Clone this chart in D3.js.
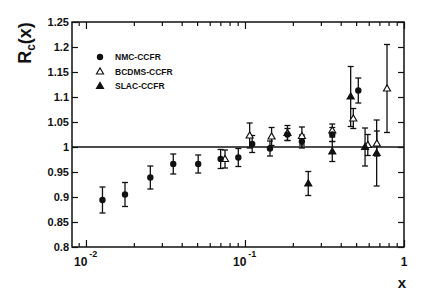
<!DOCTYPE html>
<html>
<head>
<meta charset="utf-8">
<script src="https://cdn.jsdelivr.net/npm/d3@7"></script>
<style>
  body { margin: 0; background: #fff; }
  svg { display: block; font-family: "Liberation Sans", Arial, sans-serif; font-weight: bold; }
</style>
</head>
<body>
<svg id="chart" width="429" height="292"></svg>
<script>
// NMC-CCFR (filled circles)
const nmcX = [0.0127, 0.0176, 0.0254, 0.0354, 0.0508, 0.0703, 0.0908, 0.111, 0.1436, 0.185, 0.228, 0.354, 0.516];
const nmcY = [0.894, 0.905, 0.939, 0.966, 0.966, 0.976, 0.979, 1.006, 0.997, 1.025, 1.011, 1.025, 1.113];
const nmcErr = [0.026, 0.024, 0.023, 0.02, 0.018, 0.019, 0.018, 0.017, 0.015, 0.012, 0.013, 0.014, 0.025];

// BCDMS-CCFR (open triangles)
const bcdmsX = [0.0749, 0.107, 0.147, 0.185, 0.228, 0.354, 0.48, 0.592, 0.675, 0.782];
const bcdmsY = [0.976, 1.023, 1.021, 1.028, 1.022, 1.033, 1.057, 1.004, 1.007, 1.117];
const bcdmsErr = [0.018, 0.025, 0.018, 0.015, 0.018, 0.013, 0.02, 0.021, 0.025, 0.088];

// SLAC-CCFR (filled triangles)
const slacX = [0.25, 0.354, 0.462, 0.569, 0.673];
const slacY = [0.927, 0.991, 1.101, 1.0, 0.988];
const slacErr = [0.024, 0.02, 0.06, 0.038, 0.066];

const yTicks = [0.8, 0.85, 0.9, 0.95, 1, 1.05, 1.1, 1.15, 1.2, 1.25];
const yTickLabels = ["0.8", "0.85", "0.9", "0.95", "1", "1.05", "1.1", "1.15", "1.2", "1.25"];
const xMajor = [0.01, 0.1, 1];
const xMajorBase = ["10", "10", "1"];
const xMajorExp = ["-2", "-1", ""];
const xMinor = [0.009, 0.02, 0.03, 0.04, 0.05, 0.06, 0.07, 0.08, 0.09,
                0.2, 0.3, 0.4, 0.5, 0.6, 0.7, 0.8, 0.9];

const legendNames = ["NMC-CCFR", "BCDMS-CCFR", "SLAC-CCFR"];

const svg = d3.select("#chart");
const plotL = 72, plotR = 404, plotT = 22, plotB = 247;

const x = d3.scaleLog().domain([0.00817, 1]).range([plotL, plotR]);
const y = d3.scaleLinear().domain([0.8, 1.25]).range([plotB, plotT]);

const series = [
  { name: legendNames[0], shape: "circle", xs: nmcX, ys: nmcY, es: nmcErr },
  { name: legendNames[1], shape: "open", xs: bcdmsX, ys: bcdmsY, es: bcdmsErr },
  { name: legendNames[2], shape: "tri", xs: slacX, ys: slacY, es: slacErr }
];

// axes (all ticks inward)
const gx = svg.append("g").attr("transform", `translate(0,${plotB})`);
gx.call(d3.axisBottom(x).tickValues(xMajor).tickSize(-7).tickSizeOuter(0).tickFormat(""));
const gxm = svg.append("g").attr("transform", `translate(0,${plotB})`);
gxm.call(d3.axisBottom(x).tickValues(xMinor).tickSize(-4).tickSizeOuter(0).tickFormat(""));
const gt = svg.append("g").attr("transform", `translate(0,${plotT})`);
gt.call(d3.axisTop(x).tickValues(xMajor).tickSize(-7).tickSizeOuter(0).tickFormat(""));
const gtm = svg.append("g").attr("transform", `translate(0,${plotT})`);
gtm.call(d3.axisTop(x).tickValues(xMinor).tickSize(-4).tickSizeOuter(0).tickFormat(""));

const gy = svg.append("g").attr("transform", `translate(${plotL},0)`);
gy.call(d3.axisLeft(y).tickValues(yTicks).tickSize(-6).tickSizeOuter(0).tickPadding(3)
  .tickFormat((d, i) => yTickLabels[i]));
const gr = svg.append("g").attr("transform", `translate(${plotR},0)`);
gr.call(d3.axisRight(y).tickValues(yTicks).tickSize(-6).tickSizeOuter(0).tickFormat(""));

svg.selectAll(".domain").remove();
svg.selectAll(".tick line").attr("stroke", "#111").attr("stroke-width", 1.2);
gy.selectAll("text").attr("font-size", 11).attr("font-weight", "bold").attr("fill", "#111")
  .attr("font-family", "Liberation Sans, Arial, sans-serif");

// frame
svg.append("rect")
  .attr("x", plotL).attr("y", plotT)
  .attr("width", plotR - plotL).attr("height", plotB - plotT)
  .attr("fill", "none").attr("stroke", "#111").attr("stroke-width", 1.5);

// reference line at 1
svg.append("line")
  .attr("x1", plotL).attr("x2", plotR)
  .attr("y1", y(1)).attr("y2", y(1))
  .attr("stroke", "#111").attr("stroke-width", 1.5);

// x tick labels with superscripts
const xl = svg.append("g");
xMajor.forEach((v, i) => {
  const t = xl.append("text")
    .attr("x", x(v) + (xMajorExp[i] ? -12 : 0))
    .attr("y", 266)
    .attr("font-size", 12)
    .attr("fill", "#111")
    .attr("text-anchor", xMajorExp[i] ? "start" : "middle");
  t.append("tspan").text(xMajorBase[i]);
  if (xMajorExp[i]) {
    t.append("tspan").attr("dx", 2).attr("dy", -9).attr("font-size", 9).text(xMajorExp[i]);
  }
});

// axis titles
svg.append("text")
  .attr("x", 402).attr("y", 288)
  .attr("text-anchor", "middle")
  .attr("font-size", 15).attr("fill", "#111")
  .text("x");

const yt = svg.append("text")
  .attr("transform", "translate(31,43) rotate(-90)")
  .attr("text-anchor", "middle")
  .attr("font-size", 18).attr("fill", "#111");
yt.append("tspan").text("R");
yt.append("tspan").attr("font-size", 12).attr("dy", 4).text("c");
yt.append("tspan").attr("dy", -4).text("(x)");

// error bars
const cap = 3;
const bars = svg.append("g").attr("stroke", "#111").attr("stroke-width", 1.3);
series.forEach(s => {
  s.xs.forEach((xv, i) => {
    const px = x(xv), y0 = y(s.ys[i] - s.es[i]), y1 = y(s.ys[i] + s.es[i]);
    bars.append("line").attr("x1", px).attr("x2", px).attr("y1", y0).attr("y2", y1);
    bars.append("line").attr("x1", px - cap).attr("x2", px + cap).attr("y1", y0).attr("y2", y0);
    bars.append("line").attr("x1", px - cap).attr("x2", px + cap).attr("y1", y1).attr("y2", y1);
  });
});

// markers
const tri = d3.symbol(d3.symbolTriangle).size(22);
function marker(g, shape, px, py) {
  if (shape === "circle") {
    g.append("circle").attr("cx", px).attr("cy", py).attr("r", 3.2).attr("fill", "#111");
  } else {
    g.append("path").attr("d", tri)
      .attr("transform", `translate(${px},${py + 0.5})`)
      .attr("fill", shape === "open" ? "#fff" : "#111")
      .attr("stroke", "#111").attr("stroke-width", 1.1);
  }
}
// triangles first, circles on top
const marks = svg.append("g");
[series[1], series[2], series[0]].forEach(s => {
  s.xs.forEach((xv, i) => marker(marks, s.shape, x(xv), y(s.ys[i])));
});

// legend
const lg = svg.append("g");
series.forEach((s, i) => {
  const ly = 57 + i * 14.5;
  marker(lg, s.shape, 100, ly);
  lg.append("text")
    .attr("x", 115).attr("y", ly + 3)
    .attr("font-size", 8.5).attr("fill", "#111")
    .text(s.name);
});
</script>
</body>
</html>
